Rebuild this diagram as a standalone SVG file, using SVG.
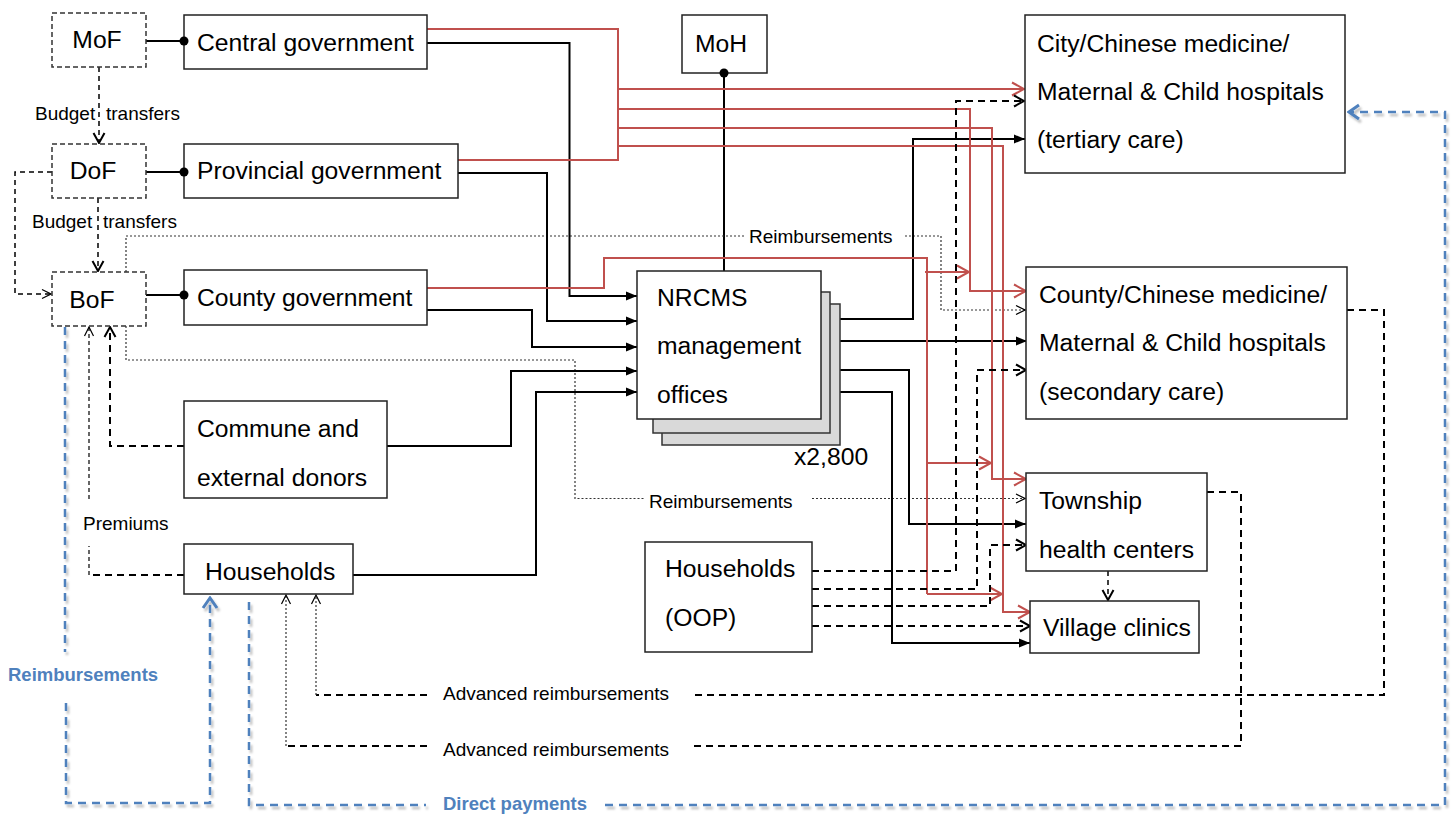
<svg xmlns="http://www.w3.org/2000/svg" width="1451" height="814" viewBox="0 0 1451 814">
<style>
.t{font-family:"Liberation Sans",Arial,sans-serif;font-size:24.7px;fill:#000}
.s{font-family:"Liberation Sans",Arial,sans-serif;font-size:19px;fill:#000}
.bl{font-family:"Liberation Sans",Arial,sans-serif;font-size:18.5px;font-weight:bold;fill:#4f81bd}
.box{fill:#fff;stroke:#222;stroke-width:1.5}
.dbox{fill:#fff;stroke:#333;stroke-width:1.5;stroke-dasharray:5 3}
.sh{fill:#d9d9d9;stroke:#333;stroke-width:1.5}
.k{fill:none;stroke:#000;stroke-width:2}
.r{fill:none;stroke:#c0504d;stroke-width:2}
.kd{fill:none;stroke:#000;stroke-width:2;stroke-dasharray:7 5}
.kt{fill:none;stroke:#000;stroke-width:1.5;stroke-dasharray:5 4}
.dt{fill:none;stroke:#333;stroke-width:1.2;stroke-dasharray:2 2}
.b{fill:none;stroke:#4f81bd;stroke-width:2.5;stroke-dasharray:8 6;filter:url(#shadow)}
</style>
<defs>
<filter id="shadow" filterUnits="userSpaceOnUse" x="0" y="0" width="1451" height="814">
<feDropShadow dx="2" dy="3" stdDeviation="1.2" flood-color="#000" flood-opacity="0.25"/>
</filter>
<marker id="aSolid" markerUnits="userSpaceOnUse" markerWidth="12" markerHeight="10" refX="11" refY="5" orient="auto">
<path d="M0,0.5 L11,5 L0,9.5 z" fill="#000"/>
</marker>
<marker id="aOpen" markerUnits="userSpaceOnUse" markerWidth="13" markerHeight="14" refX="11" refY="7" orient="auto">
<path d="M1,1.5 L11,7 L1,12.5" fill="none" stroke="#000" stroke-width="2"/>
</marker>
<marker id="aRed" markerUnits="userSpaceOnUse" markerWidth="15" markerHeight="16" refX="13" refY="8" orient="auto">
<path d="M1,1.5 L13,8 L1,14.5" fill="none" stroke="#c0504d" stroke-width="2"/>
</marker>
<marker id="aThin" markerUnits="userSpaceOnUse" markerWidth="11" markerHeight="12" refX="10" refY="6" orient="auto">
<path d="M1,1.5 L10,6 L1,10.5" fill="none" stroke="#000" stroke-width="1.2"/>
</marker>
<marker id="aBlue" markerUnits="userSpaceOnUse" markerWidth="14" markerHeight="18" refX="12" refY="9" orient="auto">
<path d="M2,2 L12,9 L2,16" fill="none" stroke="#4f81bd" stroke-width="3"/>
</marker>
</defs>
<rect width="1451" height="814" fill="#fff"/>

<g id="connectors">
<!-- blue payments -->
<path class="b" d="M65,327 V652"/>
<path class="b" d="M66,703 V803 H210 V598" marker-end="url(#aBlue)"/>
<path class="b" d="M249,602 V805 H426"/>
<path class="b" d="M605,805 H1445 V112 H1349" marker-end="url(#aBlue)"/>
<!-- solid ownership links -->
<path class="k" d="M146,41 H184"/>
<path class="k" d="M146,172 H184"/>
<path class="k" d="M146,295 H184"/>
<path class="k" d="M724,73 V271"/>
<!-- budget transfers -->
<path class="kt" d="M99,67 V143" marker-end="url(#aOpen)"/>
<path class="kt" d="M98,198 V271" marker-end="url(#aOpen)"/>
<path class="kt" d="M52,172 H15 V294 H51" marker-end="url(#aThin)"/>
<!-- premiums / commune to BoF -->
<path class="kd" d="M184,446 H110 V327" marker-end="url(#aOpen)"/>
<path class="kd" d="M184,575 H89"/>
<path class="kt" d="M89,575 V546" style="stroke-width:1.2;stroke-dasharray:4 3"/>
<path class="kt" d="M89,499 V327" style="stroke-width:1.2;stroke-dasharray:4 3" marker-end="url(#aThin)"/>
<!-- reimbursements from BoF -->
<path class="dt" d="M126,272 V236 H745"/>
<path class="dt" d="M905,236 H941 V310 H1025" marker-end="url(#aThin)"/>
<path class="dt" d="M126,326 V360 H575 V498.5 H645"/>
<path class="dt" d="M812,498.5 H1025" marker-end="url(#aThin)"/>
<!-- black funds into NRCMS -->
<path class="k" d="M427,43 H569.5 V296 H637" marker-end="url(#aSolid)"/>
<path class="k" d="M458,173 H547 V321 H637" marker-end="url(#aSolid)"/>
<path class="k" d="M427,310 H532 V347 H637" marker-end="url(#aSolid)"/>
<path class="k" d="M387,446 H511 V371 H637" marker-end="url(#aSolid)"/>
<path class="k" d="M353,575 H536 V392 H637" marker-end="url(#aSolid)"/>
<!-- NRCMS outputs -->
<path class="k" d="M840,319 H913 V139 H1025" marker-end="url(#aSolid)"/>
<path class="k" d="M840,341 H1027" marker-end="url(#aSolid)"/>
<path class="k" d="M840,370 H909 V524 H1026" marker-end="url(#aSolid)"/>
<path class="k" d="M840,392 H892 V643 H1030" marker-end="url(#aSolid)"/>
<!-- red central / provincial -->
<path class="r" d="M427,29 H618 V160 H458"/>
<path class="r" d="M618,89 H1024" marker-end="url(#aRed)"/>
<path class="r" d="M618,109 H970 V291 H1026" marker-end="url(#aRed)"/>
<path class="r" d="M618,128 H992 V479 H1026" marker-end="url(#aRed)"/>
<path class="r" d="M618,146 H1003 V612 H1030" marker-end="url(#aRed)"/>
<!-- red county -->
<path class="r" d="M427,288 H604 V258 H927 V594"/>
<path class="r" d="M925,272 H969" marker-end="url(#aRed)"/>
<path class="r" d="M927,463 H991" marker-end="url(#aRed)"/>
<path class="r" d="M927,594 H1002" marker-end="url(#aRed)"/>
<!-- OOP payments -->
<path class="kd" d="M812,571 H956 V101 H1024" marker-end="url(#aOpen)"/>
<path class="kd" d="M812,589 H977 V370 H1026" marker-end="url(#aOpen)"/>
<path class="kd" d="M812,606 H990 V545 H1026" marker-end="url(#aOpen)"/>
<path class="kd" d="M812,626 H1030" marker-end="url(#aOpen)"/>
<!-- township to village -->
<path class="kt" d="M1108,571 V600" marker-end="url(#aOpen)"/>
<!-- advanced reimbursements -->
<path class="kd" d="M1347,310 H1384 V695 H693"/>
<path class="kd" d="M427,695 H316"/>
<path class="dt" d="M316,695 V595" marker-end="url(#aThin)"/>
<path class="kd" d="M1207,492 H1241 V746 H693"/>
<path class="kd" d="M427,746 H286"/>
<path class="dt" d="M286,746 V595" marker-end="url(#aThin)"/>
</g>

<g id="labels">
<text class="s" x="35" y="120" word-spacing="5.5">Budget transfers</text>
<text class="s" x="32" y="228" word-spacing="5.5">Budget transfers</text>
<text class="s" x="749" y="243">Reimbursements</text>
<text class="s" x="649" y="508">Reimbursements</text>
<text class="s" x="83" y="530">Premiums</text>
<text class="s" x="443" y="700">Advanced reimbursements</text>
<text class="s" x="443" y="756">Advanced reimbursements</text>
<text class="bl" x="8" y="681">Reimbursements</text>
<text class="bl" x="443" y="810">Direct payments</text>
<text class="t" x="794" y="465">x2,800</text>
</g>

<g id="MoF"><rect class="dbox" x="52" y="13" width="94" height="54"/><text class="t" x="97" y="48" text-anchor="middle">MoF</text></g>
<g id="DoF"><rect class="dbox" x="52" y="144" width="94" height="54"/><text class="t" x="93" y="179" text-anchor="middle">DoF</text></g>
<g id="BoF"><rect class="dbox" x="52" y="272" width="94" height="54"/><text class="t" x="92" y="308" text-anchor="middle">BoF</text></g>
<g id="central"><rect class="box" x="184" y="15" width="243" height="54"/><text class="t" x="197" y="51">Central government</text></g>
<g id="provincial"><rect class="box" x="184" y="144" width="274" height="54"/><text class="t" x="197" y="179">Provincial government</text></g>
<g id="county"><rect class="box" x="184" y="270" width="243" height="55"/><text class="t" x="197" y="306">County government</text></g>
<g id="commune"><rect class="box" x="184" y="401" width="203" height="97"/><text class="t" x="197" y="437">Commune and</text><text class="t" x="197" y="486">external donors</text></g>
<g id="households"><rect class="box" x="184" y="544" width="169" height="50"/><text class="t" x="205" y="580">Households</text></g>
<g id="MoH"><rect class="box" x="682" y="15" width="85" height="58"/><text class="t" x="721" y="52" text-anchor="middle">MoH</text></g>
<g id="NRCMS">
<rect class="sh" x="662" y="304" width="178" height="141"/>
<rect class="sh" x="653" y="292" width="177" height="141"/>
<rect class="box" x="637" y="271" width="184" height="148"/>
<text class="t" x="657" y="306">NRCMS</text>
<text class="t" x="657" y="354">management</text>
<text class="t" x="657" y="403">offices</text>
</g>
<g id="OOP"><rect class="box" x="645" y="542" width="167" height="110"/><text class="t" x="665" y="577">Households</text><text class="t" x="665" y="626">(OOP)</text></g>
<g id="tertiary"><rect class="box" x="1025" y="15" width="320" height="158"/><text class="t" x="1037" y="52">City/Chinese medicine/</text><text class="t" x="1037" y="100">Maternal &amp; Child hospitals</text><text class="t" x="1037" y="148">(tertiary care)</text></g>
<g id="secondary"><rect class="box" x="1026" y="267" width="321" height="152"/><text class="t" x="1039" y="303">County/Chinese medicine/</text><text class="t" x="1039" y="351">Maternal &amp; Child hospitals</text><text class="t" x="1039" y="400">(secondary care)</text></g>
<g id="township"><rect class="box" x="1026" y="473" width="181" height="98"/><text class="t" x="1039" y="509">Township</text><text class="t" x="1039" y="558">health centers</text></g>
<g id="village"><rect class="box" x="1030" y="601" width="169" height="52"/><text class="t" x="1043" y="636">Village clinics</text></g>

<g id="connector-dots">
<circle cx="184" cy="41" r="4.5" fill="#000"/>
<circle cx="184" cy="172" r="4.5" fill="#000"/>
<circle cx="184" cy="295" r="4.5" fill="#000"/>
<circle cx="724" cy="73" r="4.5" fill="#000"/>
</g>
</svg>
